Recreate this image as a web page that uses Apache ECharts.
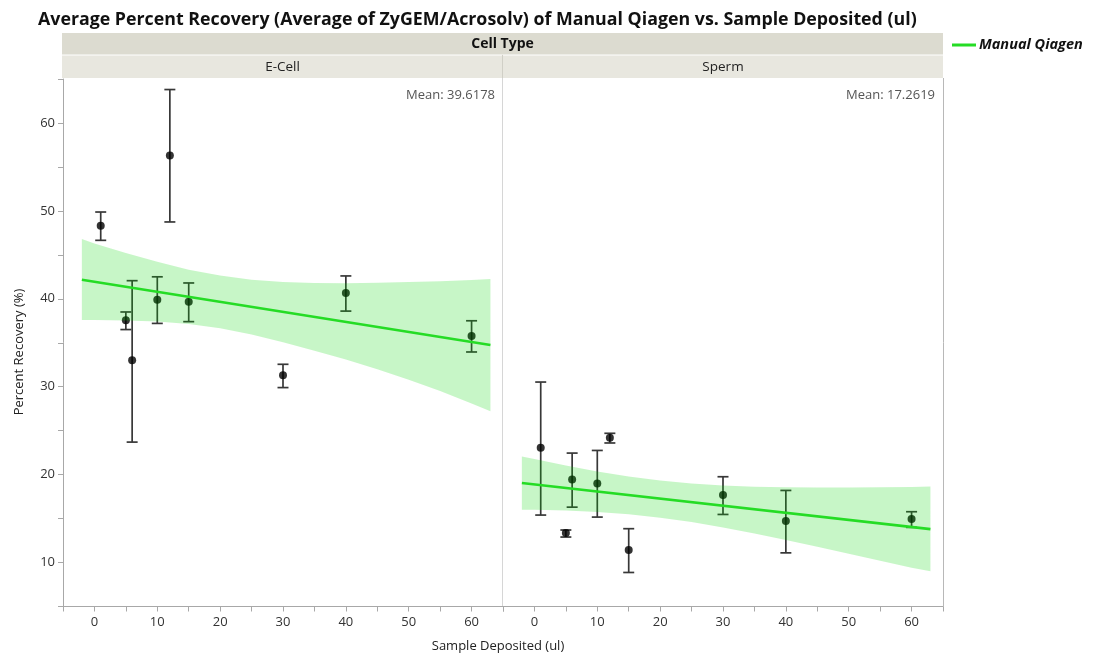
<!DOCTYPE html>
<html>
<head>
<meta charset="utf-8">
<script src="https://cdn.jsdelivr.net/npm/echarts@6/dist/echarts.min.js"></script>
<style>
html,body{margin:0;padding:0;background:#fff;}
#chart{width:1093px;height:656px;}
</style>
</head>
<body>
<div id="chart"></div>
<script>
// ---- data ----
const panels = ['E-Cell', 'Sperm'];
const meanLabels = ['Mean: 39.6178', 'Mean: 17.2619'];
const xTicks = [0, 10, 20, 30, 40, 50, 60];
const yTicks = [10, 20, 30, 40, 50, 60];

const ecellX    = [1, 5, 6, 10, 12, 15, 30, 40, 60];
const ecellMean = [48.3, 37.55, 33.0, 39.9, 56.3, 39.67, 31.3, 40.66, 35.77];
const ecellLow  = [46.65, 36.5, 23.7, 37.2, 48.74, 37.4, 29.9, 38.6, 33.95];
const ecellHigh = [49.87, 38.5, 42.06, 42.5, 63.8, 41.8, 32.55, 42.6, 37.5];

const spermX    = [1, 5, 6, 10, 12, 15, 30, 40, 60];
const spermMean = [23.06, 13.35, 19.45, 19.0, 24.2, 11.42, 17.68, 14.72, 14.95];
const spermLow  = [15.4, 12.9, 16.3, 15.17, 23.6, 8.87, 15.47, 11.1, 14.0];
const spermHigh = [30.53, 13.7, 22.45, 22.75, 24.7, 13.85, 19.76, 18.2, 15.78];

const fitX = [-2, 63];
const ecellFit = [42.16, 34.74];
const spermFit = [19.04, 13.80];

const bandX = [-2, 0, 5, 10, 15, 20, 25, 30, 35, 40, 45, 50, 55, 60, 63];
const ecellBandUp  = [46.8, 46.3, 45.2, 44.2, 43.3, 42.64, 42.18, 41.92, 41.8, 41.78, 41.82, 41.9, 42.0, 42.14, 42.25];
const ecellBandLow = [37.6, 37.58, 37.54, 37.42, 37.13, 36.66, 35.95, 35.05, 34.1, 33.1, 32.0, 30.8, 29.5, 28.1, 27.2];
const spermBandUp  = [22.05, 21.77, 21.03, 20.36, 19.79, 19.33, 18.99, 18.76, 18.63, 18.55, 18.53, 18.53, 18.55, 18.6, 18.65];
const spermBandLow = [16.0, 16.0, 15.92, 15.75, 15.5, 15.1, 14.6, 14.0, 13.3, 12.55, 11.8, 11.0, 10.2, 9.4, 9.0];

// ---- layout ----
const FONT = 'Open Sans';
const grids = [
  {left: 63, top: 79, width: 440, height: 527.5},
  {left: 503, top: 79, width: 440, height: 527.5}
];
const GREEN = '#25dc25';
const BAND = 'rgba(0,215,0,0.22)';

function pairs(xs, ys){ return xs.map((x,i)=>[x, ys[i]]); }
function triples(xs, lo, hi){ return xs.map((x,i)=>[x, lo[i], hi[i]]); }

function errRender(params, api){
  const x = api.value(0), lo = api.value(1), hi = api.value(2);
  const a = api.coord([x, hi]), b = api.coord([x, lo]);
  const w = 5.5;
  const st = {stroke: '#383838', lineWidth: 1.7};
  return {type: 'group', children: [
    {type: 'line', shape: {x1: a[0], y1: a[1], x2: b[0], y2: b[1]}, style: st},
    {type: 'line', shape: {x1: a[0]-w, y1: a[1], x2: a[0]+w, y2: a[1]}, style: st},
    {type: 'line', shape: {x1: b[0]-w, y1: b[1], x2: b[0]+w, y2: b[1]}, style: st}
  ]};
}
function bandRender(up, low){
  return function(params, api){
    if (params.dataIndex !== 0) return null;
    const pts = [];
    for (let i = 0; i < bandX.length; i++) pts.push(api.coord([bandX[i], up[i]]));
    for (let i = bandX.length - 1; i >= 0; i--) pts.push(api.coord([bandX[i], low[i]]));
    return {type: 'polygon', shape: {points: pts}, style: {fill: BAND}};
  };
}

const xAxes = grids.map((g, i) => ({
  type: 'value', gridIndex: i, min: -5, max: 65, interval: 5,
  axisLine: {show: true, onZero: false, lineStyle: {color: '#a8a8a8', width: 1}},
  axisTick: {show: true, length: 5, lineStyle: {color: '#a8a8a8'}},
  axisLabel: {
    color: '#333', fontFamily: FONT, fontSize: 13, margin: 9,
    formatter: v => (xTicks.indexOf(v) >= 0 ? String(v) : '')
  },
  splitLine: {show: false}
}));
const yAxes = grids.map((g, i) => ({
  type: 'value', gridIndex: i, min: 5, max: 65, interval: 5,
  axisLine: {show: i === 0, onZero: false, lineStyle: {color: '#a8a8a8', width: 1}},
  axisTick: {show: i === 0, length: 5, lineStyle: {color: '#a8a8a8'}},
  axisLabel: {
    show: i === 0, color: '#333', fontFamily: FONT, fontSize: 13, margin: 8,
    formatter: v => (yTicks.indexOf(v) >= 0 ? String(v) : '')
  },
  splitLine: {show: false}
}));

const series = [];
const sets = [
  {x: ecellX, m: ecellMean, lo: ecellLow, hi: ecellHigh, fit: ecellFit, up: ecellBandUp, low: ecellBandLow},
  {x: spermX, m: spermMean, lo: spermLow, hi: spermHigh, fit: spermFit, up: spermBandUp, low: spermBandLow}
];
sets.forEach((s, i) => {
  series.push({
    type: 'custom', xAxisIndex: i, yAxisIndex: i, z: 2, silent: true,
    renderItem: errRender, data: triples(s.x, s.lo, s.hi),
    encode: {x: 0, y: [1, 2]}
  });
  series.push({
    type: 'scatter', xAxisIndex: i, yAxisIndex: i, z: 3, silent: true,
    symbol: 'circle', symbolSize: 8, itemStyle: {color: '#000'},
    data: pairs(s.x, s.m)
  });
  series.push({
    type: 'custom', xAxisIndex: i, yAxisIndex: i, z: 4, silent: true,
    renderItem: bandRender(s.up, s.low), data: [[bandX[0], s.up[0]]],
    encode: {x: 0, y: 1}
  });
  series.push({
    type: 'line', xAxisIndex: i, yAxisIndex: i, z: 5, silent: true,
    name: 'Manual Qiagen', symbol: 'none',
    lineStyle: {color: GREEN, width: 2.6}, data: pairs(fitX, s.fit)
  });
});

const graphic = [
  // header bands
  {type: 'rect', shape: {x: 62, y: 33, width: 881, height: 22}, style: {fill: '#dcdbd0'}, z: 1},
  {type: 'rect', shape: {x: 62, y: 55, width: 881, height: 23}, style: {fill: '#e8e7df'}, z: 1},
  {type: 'line', shape: {x1: 62, y1: 55, x2: 943, y2: 55}, style: {stroke: '#ffffff', lineWidth: 1}, z: 2},
  {type: 'line', shape: {x1: 502.5, y1: 55, x2: 502.5, y2: 78}, style: {stroke: '#d0cfc6', lineWidth: 1}, z: 2},
  {type: 'text', x: 502.5, y: 44, style: {text: 'Cell Type', font: 'bold 14px "' + FONT + '"', fill: '#111', align: 'center', verticalAlign: 'middle'}, z: 3},
  {type: 'text', x: 282.5, y: 67, style: {text: panels[0], font: '13.5px "' + FONT + '"', fill: '#222', align: 'center', verticalAlign: 'middle'}, z: 3},
  {type: 'text', x: 723, y: 67, style: {text: panels[1], font: '13.5px "' + FONT + '"', fill: '#222', align: 'center', verticalAlign: 'middle'}, z: 3},
  // panel borders
  {type: 'line', shape: {x1: 502.5, y1: 78, x2: 502.5, y2: 606}, style: {stroke: '#d6d6d6', lineWidth: 1}, z: 1},
  {type: 'line', shape: {x1: 943.5, y1: 78, x2: 943.5, y2: 607}, style: {stroke: '#b8b8b8', lineWidth: 1}, z: 1},
  // means
  {type: 'text', x: 495, y: 95, style: {text: meanLabels[0], font: '13px "' + FONT + '"', fill: '#555', align: 'right', verticalAlign: 'middle'}, z: 3},
  {type: 'text', x: 935, y: 95, style: {text: meanLabels[1], font: '13px "' + FONT + '"', fill: '#555', align: 'right', verticalAlign: 'middle'}, z: 3},
  // legend
  {type: 'line', shape: {x1: 952, y1: 45, x2: 976, y2: 45}, style: {stroke: GREEN, lineWidth: 3}, z: 3},
  {type: 'text', x: 979, y: 45, style: {text: 'Manual Qiagen', font: 'italic bold 14.5px "' + FONT + '"', fill: '#111', align: 'left', verticalAlign: 'middle'}, z: 3},
  // axis titles
  {type: 'text', x: 498, y: 646, style: {text: 'Sample Deposited (ul)', font: '13px "' + FONT + '"', fill: '#222', align: 'center', verticalAlign: 'middle'}, z: 3},
  {type: 'text', x: 19, y: 352, rotation: Math.PI / 2, style: {text: 'Percent Recovery (%)', font: '13px "' + FONT + '"', fill: '#222', align: 'center', verticalAlign: 'middle'}, z: 3}
];

const chart = echarts.init(document.getElementById('chart'), null, {renderer: 'canvas'});
chart.setOption({
  animation: false,
  backgroundColor: '#fff',
  title: {
    text: 'Average Percent Recovery (Average of ZyGEM/Acrosolv) of Manual Qiagen vs. Sample Deposited (ul)',
    left: 33, top: 6,
    textStyle: {fontFamily: FONT, fontWeight: 'bold', fontSize: 17.8, color: '#111'}
  },
  grid: grids.map(g => Object.assign({containLabel: false}, g)),
  xAxis: xAxes,
  yAxis: yAxes,
  series: series,
  graphic: graphic
});
</script>
</body>
</html>
